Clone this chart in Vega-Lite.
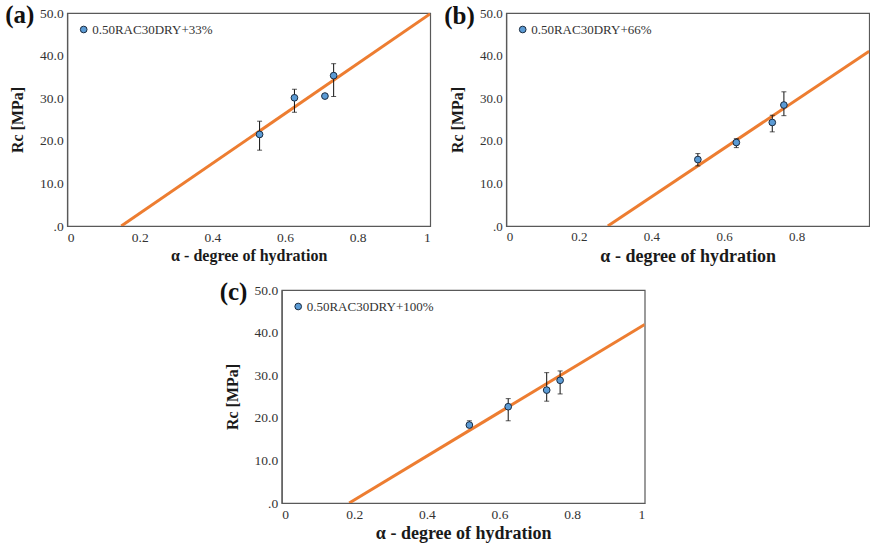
{
  "$schema": "https://vega.github.io/schema/vega-lite/v6.json",
  "padding": {"left": 4, "top": 2, "right": 0, "bottom": 0},
  "background": "white",
  "datasets": {
    "ptsA": [
      {"x": 0.530, "y": 21.5, "lo": 17.8, "hi": 24.6, "series": "0.50RAC30DRY+33%"},
      {"x": 0.626, "y": 30.1, "lo": 26.7, "hi": 32.1, "series": "0.50RAC30DRY+33%"},
      {"x": 0.710, "y": 30.5, "lo": 30.5, "hi": 30.5, "series": "0.50RAC30DRY+33%"},
      {"x": 0.734, "y": 35.3, "lo": 30.4, "hi": 38.1, "series": "0.50RAC30DRY+33%"}
    ],
    "lineA": [{"x": 0.149, "y": 0}, {"x": 1, "y": 49.8}],
    "ptsB": [
      {"x": 0.528, "y": 15.6, "lo": 14.1, "hi": 17.0, "series": "0.50RAC30DRY+66%"},
      {"x": 0.634, "y": 19.6, "lo": 18.4, "hi": 20.5, "series": "0.50RAC30DRY+66%"},
      {"x": 0.733, "y": 24.3, "lo": 22.1, "hi": 26.0, "series": "0.50RAC30DRY+66%"},
      {"x": 0.765, "y": 28.4, "lo": 25.9, "hi": 31.5, "series": "0.50RAC30DRY+66%"}
    ],
    "lineB": [{"x": 0.280, "y": 0}, {"x": 1, "y": 41.0}],
    "ptsC": [
      {"x": 0.517, "y": 18.3, "lo": 17.9, "hi": 19.3, "series": "0.50RAC30DRY+100%"},
      {"x": 0.624, "y": 22.6, "lo": 19.3, "hi": 24.5, "series": "0.50RAC30DRY+100%"},
      {"x": 0.730, "y": 26.5, "lo": 23.9, "hi": 30.6, "series": "0.50RAC30DRY+100%"},
      {"x": 0.767, "y": 28.8, "lo": 25.6, "hi": 31.0, "series": "0.50RAC30DRY+100%"}
    ],
    "lineC": [{"x": 0.186, "y": 0}, {"x": 1, "y": 41.9}]
  },
  "config": {
    "font": "Liberation Serif",
    "view": {"stroke": "#595959", "strokeWidth": 1.2},
    "axis": {
      "grid": false,
      "ticks": false,
      "domainColor": "#595959",
      "domainWidth": 1.2,
      "labelColor": "#333333",
      "titleColor": "#1a1a1a",
      "labelFont": "Liberation Serif",
      "titleFont": "Liberation Serif",
      "labelFontSize": 13.5,
      "titleFontSize": 16,
      "titleFontWeight": "bold",
      "labelPadding": 4
    },
    "axisX": {"titlePadding": 4},
    "axisY": {"titlePadding": 14},
    "legend": {
      "orient": "top-left",
      "offset": 10,
      "padding": 0,
      "labelFont": "Liberation Serif",
      "labelFontSize": 13,
      "labelColor": "#333333",
      "labelOffset": 2,
      "symbolSize": 45,
      "symbolType": "circle",
      "symbolStrokeColor": "#1a2b40",
      "symbolStrokeWidth": 1,
      "title": null
    },
    "title": {
      "anchor": "start",
      "frame": "group",
      "font": "Liberation Serif",
      "fontSize": 25,
      "fontWeight": "bold",
      "color": "#111111"
    }
  },
  "resolve": {"scale": {"fill": "independent", "x": "independent", "y": "independent"}, "legend": {"fill": "independent"}},
  "vconcat": [
    {
      "hconcat": [
        {
          "width": 363, "height": 213,
          "title": {"text": "(a)", "dx": -62, "offset": -22},
          "layer": [
            {
              "data": {"name": "lineA"},
              "mark": {"type": "line", "color": "#ED7D31", "strokeWidth": 3, "clip": true},
              "encoding": {
                "x": {"field": "x", "type": "quantitative", "scale": {"domain": [0, 1]}, "title": "α - degree of hydration",
                  "axis": {"values": [0, 0.2, 0.4, 0.6, 0.8, 1], "labelExpr": "format(datum.value, '~g')"}},
                "y": {"field": "y", "type": "quantitative", "scale": {"domain": [0, 50]}, "title": "Rc [MPa]",
                  "axis": {"values": [0, 10, 20, 30, 40, 50], "labelExpr": "datum.value == 0 ? '.0' : format(datum.value, '.1f')"}}
              }
            },
            {
              "data": {"name": "ptsA"},
              "mark": {"type": "errorbar", "color": "#111111", "ticks": {"size": 5, "color": "#111111"}},
              "encoding": {
                "x": {"field": "x", "type": "quantitative", "title": "α - degree of hydration"},
                "y": {"field": "lo", "type": "quantitative", "title": "Rc [MPa]"},
                "y2": {"field": "hi"}
              }
            },
            {
              "data": {"name": "ptsA"},
              "mark": {"type": "circle", "size": 45, "opacity": 1, "stroke": "#1a2b40", "strokeWidth": 1},
              "encoding": {
                "x": {"field": "x", "type": "quantitative", "title": "α - degree of hydration"},
                "y": {"field": "y", "type": "quantitative", "title": "Rc [MPa]"},
                "fill": {"field": "series", "type": "nominal", "scale": {"range": ["#5B9BD5"]}}
              }
            }
          ]
        },
        {
          "width": 363, "height": 213,
          "title": {"text": "(b)", "dx": -62, "offset": -22},
          "layer": [
            {
              "data": {"name": "lineB"},
              "mark": {"type": "line", "color": "#ED7D31", "strokeWidth": 3, "clip": true},
              "encoding": {
                "x": {"field": "x", "type": "quantitative", "scale": {"domain": [0, 1]}, "title": "α - degree of hydration",
                  "axis": {"values": [0, 0.2, 0.4, 0.6, 0.8, 1], "labelExpr": "datum.value == 1 ? '' : format(datum.value, '~g')", "titleFontSize": 18, "labelFontSize": 13}},
                "y": {"field": "y", "type": "quantitative", "scale": {"domain": [0, 50]}, "title": "Rc [MPa]",
                  "axis": {"values": [0, 10, 20, 30, 40, 50], "labelExpr": "datum.value == 0 ? '.0' : format(datum.value, '.1f')", "labelFontSize": 13}}
              }
            },
            {
              "data": {"name": "ptsB"},
              "mark": {"type": "errorbar", "color": "#111111", "ticks": {"size": 5, "color": "#111111"}},
              "encoding": {
                "x": {"field": "x", "type": "quantitative", "title": "α - degree of hydration"},
                "y": {"field": "lo", "type": "quantitative", "title": "Rc [MPa]"},
                "y2": {"field": "hi"}
              }
            },
            {
              "data": {"name": "ptsB"},
              "mark": {"type": "circle", "size": 45, "opacity": 1, "stroke": "#1a2b40", "strokeWidth": 1},
              "encoding": {
                "x": {"field": "x", "type": "quantitative", "title": "α - degree of hydration"},
                "y": {"field": "y", "type": "quantitative", "title": "Rc [MPa]"},
                "fill": {"field": "series", "type": "nominal", "scale": {"range": ["#5B9BD5"]}}
              }
            }
          ]
        }
      ],
      "spacing": 12,
      "resolve": {"scale": {"fill": "independent", "x": "independent", "y": "independent"}, "legend": {"fill": "independent"}}
    },
    {
      "width": 363, "height": 213,
      "title": {"text": "(c)", "dx": -62, "offset": -22},
      "resolve": {"scale": {"y": "independent"}},
      "layer": [
        {
          "data": {"name": "lineC"},
          "mark": {"type": "line", "color": "#ED7D31", "strokeWidth": 3, "clip": true},
          "encoding": {
            "x": {"field": "x", "type": "quantitative", "scale": {"domain": [0, 1]}, "title": "α - degree of hydration",
              "axis": {"values": [0, 0.2, 0.4, 0.6, 0.8, 1], "labelExpr": "format(datum.value, '~g')", "titleFontSize": 18}},
            "y": {"field": "y", "type": "quantitative", "scale": {"domain": [0, 50]}, "title": "Rc [MPa]",
              "axis": {"orient": "left", "values": [0, 10, 20, 30, 40, 50], "labelExpr": "datum.value == 0 ? '.0' : format(datum.value, '.1f')"}}
          }
        },
        {
          "data": {"name": "ptsC"},
          "mark": {"type": "errorbar", "color": "#111111", "ticks": {"size": 5, "color": "#111111"}},
          "encoding": {
            "x": {"field": "x", "type": "quantitative", "title": "α - degree of hydration"},
            "y": {"field": "lo", "type": "quantitative", "scale": {"domain": [0, 50]}, "title": null,
              "axis": {"orient": "right", "values": [50], "labelExpr": "'00'", "labelOpacity": 0, "labelFontSize": 10, "domain": false, "ticks": false, "labelPadding": 0}},
            "y2": {"field": "hi"}
          }
        },
        {
          "data": {"name": "ptsC"},
          "mark": {"type": "circle", "size": 45, "opacity": 1, "stroke": "#1a2b40", "strokeWidth": 1},
          "encoding": {
            "x": {"field": "x", "type": "quantitative", "title": "α - degree of hydration"},
            "y": {"field": "y", "type": "quantitative", "scale": {"domain": [0, 50]}, "axis": null},
            "fill": {"field": "series", "type": "nominal", "scale": {"range": ["#5B9BD5"]}}
          }
        }
      ]
    }
  ],
  "spacing": 13,
  "center": true
}
